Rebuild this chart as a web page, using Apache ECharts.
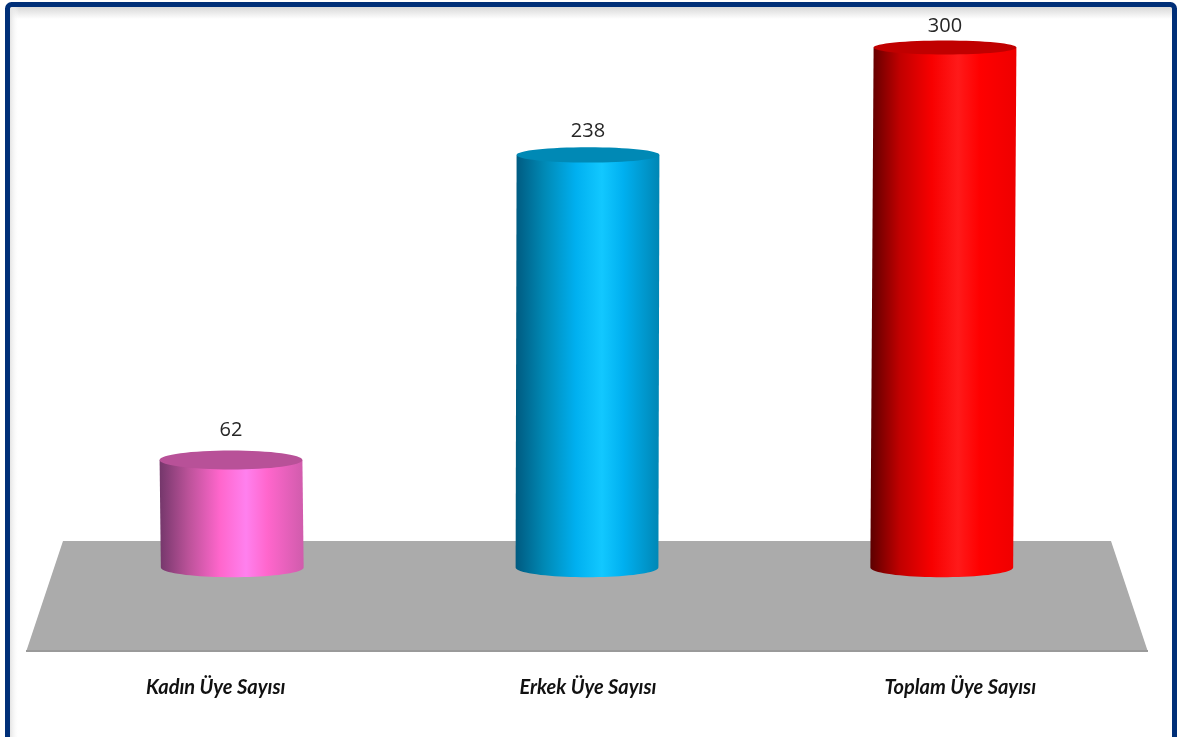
<!DOCTYPE html>
<html><head><meta charset="utf-8">
<style>html,body{margin:0;padding:0;background:#fff}#c{width:1177px;height:737px}</style>
<script src="https://cdn.jsdelivr.net/npm/echarts@6/dist/echarts.min.js"></script>
</head><body><div id="c"></div>
<script>
const categories = ['Kadın Üye Sayısı', 'Erkek Üye Sayısı', 'Toplam Üye Sayısı'];
const values = [62, 238, 300];
const capColors = ['#b85198', '#0089b5', '#c00000'];
const bodyStops = [
  ['#74376b', '#bb5299', '#ff66cc', '#ff80ee', '#ff66cc', '#d05cac'],
  ['#005a80', '#0089b5', '#00b0f0', '#12c8ff', '#00b0f0', '#0086b4'],
  ['#5c0000', '#c00000', '#f80000', '#ff1a1a', '#ff0000', '#ee0000']
];
const stopOffsets = [0, 0.2, 0.42, 0.6, 0.75, 1];

const chart = echarts.init(document.getElementById('c'), null, {renderer: 'canvas'});

function renderCylinder(params, api) {
  const i = api.value(0), v = api.value(1);
  const top = api.coord([i, v]), base = api.coord([i, 0]);
  const rx = api.size([1, 0])[0] * 0.2;
  const lean = (top[0] - 588) * -0.0063 - 1;      // slight perspective of the base
  const ryTop = 10.15 - 0.0105 * v, ryBase = 9.7;
  const pts = [[top[0] - rx, top[1]], [top[0] + rx, top[1]]];
  for (let a = 0; a <= 40; a++) {
    const t = a / 40 * Math.PI;
    pts.push([base[0] + lean + rx * Math.cos(t), base[1] + ryBase * Math.sin(t)]);
  }
  const fill = new echarts.graphic.LinearGradient(0, 0, 1, 0,
    stopOffsets.map((o, k) => ({offset: o, color: bodyStops[i][k]})));
  return {type: 'group', children: [
    {type: 'polygon', shape: {points: pts}, style: {fill}},
    {type: 'ellipse', shape: {cx: top[0], cy: top[1], rx, ry: ryTop}, style: {fill: capColors[i]}},
    {type: 'text', style: {
      text: String(v), x: top[0], y: top[1] - (32 - v * 0.035),
      align: 'center', verticalAlign: 'middle',
      font: '20px "Open Sans"', fill: '#262626'
    }}
  ]};
}

chart.setOption({
  animation: false,
  backgroundColor: '#fff',
  graphic: {elements: [
    {type: 'rect', z: 0, shape: {x: 10, y: 7, width: 1163, height: 12},
     style: {fill: new echarts.graphic.LinearGradient(0, 0, 0, 1, [{offset: 0, color: '#d8d8d8'}, {offset: 1, color: '#ffffff'}])}},
    {type: 'rect', z: 0, shape: {x: 10, y: 7, width: 9, height: 730},
     style: {fill: new echarts.graphic.LinearGradient(0, 0, 1, 0, [{offset: 0, color: '#e4e4e4'}, {offset: 1, color: 'rgba(255,255,255,0)'}])}},
    {type: 'rect', z: 1, shape: {x: 7.5, y: 4.5, width: 1167, height: 790, r: 4},
     style: {fill: 'transparent', stroke: '#002f78', lineWidth: 5}},
    {type: 'polygon', z: 1, shape: {points: [[63, 541], [1111, 541], [1148, 652], [26, 652]]},
     style: {fill: '#ababab'}},
    {type: 'rect', z: 1, shape: {x: 26, y: 650, width: 1122, height: 2}, style: {fill: '#9a9a9a'}}
  ]},
  grid: [
    {left: 52.5, width: 1071, top: 47.5, height: 520},
    {left: 29.5, width: 1117, top: 541, height: 111}
  ],
  xAxis: [
    {type: 'category', gridIndex: 0, data: categories, axisLine: {show: false}, axisTick: {show: false}, axisLabel: {show: false}},
    {type: 'category', gridIndex: 1, data: categories, axisLine: {show: false}, axisTick: {show: false},
     axisLabel: {margin: 26, interval: 0, fontFamily: 'Lato', fontStyle: 'italic', fontWeight: 'bold', fontSize: 20, color: '#111'}}
  ],
  yAxis: [
    {type: 'value', gridIndex: 0, min: 0, max: 300, show: false},
    {type: 'value', gridIndex: 1, min: 0, max: 1, show: false}
  ],
  series: [{
    type: 'custom', xAxisIndex: 0, yAxisIndex: 0, z: 5, clip: false,
    renderItem: renderCylinder,
    encode: {x: 0, y: 1},
    data: values.map((v, i) => [i, v])
  }]
});
</script></body></html>
